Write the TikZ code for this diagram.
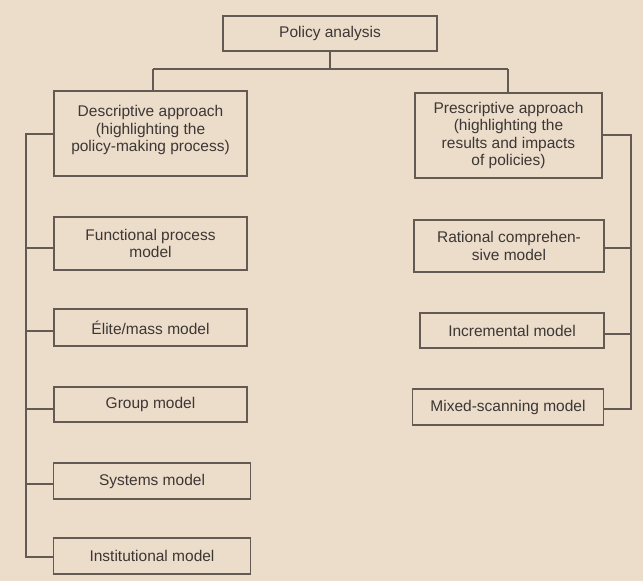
\documentclass[tikz,border=0pt]{standalone}
\usepackage{fontspec}
\setmainfont{Liberation Sans}
\begin{document}
\definecolor{paper}{HTML}{ECDCCA}
\definecolor{ink}{HTML}{645A54}
\definecolor{txt}{HTML}{3C3735}
\begin{tikzpicture}[x=1pt,y=-1pt,
  box/.style={draw=ink, line width=1.5pt, text=txt, align=center,
    inner sep=0pt, font=\fontsize{15.5pt}{17.5pt}\selectfont},
  link/.style={draw=ink, line width=1.5pt}]
  % paper
  \fill[paper] (0,0) rectangle (643,581);
  \useasboundingbox (0,0) rectangle (643,581);

  % top level
  \node[box, minimum width=214pt, minimum height=35pt] (pa) at (330,33.5) {Policy analysis};
  \node[box, minimum width=193pt, minimum height=85pt] (desc) at (150.5,133.5)
    {Descriptive approach\\(highlighting the\\policy-making process)\\[-8pt]};
  \node[box, minimum width=187pt, minimum height=85pt] (pres) at (508.5,135.5)
    {Prescriptive approach\\(highlighting the\\results and impacts\\of policies)};

  % descriptive models
  \node[box, minimum width=193pt, minimum height=53pt] (func) at (150.5,243.5) {Functional process\\model};
  \node[box, minimum width=193pt, minimum height=37pt] (elite) at (150.5,327.5) {Élite/mass model};
  \node[box, minimum width=193pt, minimum height=35pt] (group) at (150.5,404.5) {Group model};
  \node[box, minimum width=197pt, minimum height=36pt] (syst) at (152,481) {Systems model};
  \node[box, minimum width=197pt, minimum height=36pt] (inst) at (152,556) {Institutional model};

  % prescriptive models
  \node[box, minimum width=190pt, minimum height=52pt] (rat) at (509,246) {Rational comprehen-\\sive model};
  \node[box, minimum width=184pt, minimum height=35pt] (incr) at (512,330.5) {Incremental model};
  \node[box, minimum width=191pt, minimum height=36pt] (mixed) at (508,407) {Mixed-scanning model};

  % branching under the root
  \coordinate (fork) at (330,69);
  \coordinate (forkL) at (153,69);
  \coordinate (forkR) at (508,69);
  \draw[link] (pa) -- (fork);
  \draw[link] (forkL) -- (forkR);
  \draw[link] (forkL) -- (forkL |- desc.north);
  \draw[link] (forkR) -- (forkR |- pres.north);

  % left bus and its branches
  \coordinate (lTop) at (26,134);
  \coordinate (l1) at (26,248);
  \coordinate (l2) at (26,331);
  \coordinate (l3) at (26,409);
  \coordinate (l4) at (26,484);
  \coordinate (l5) at (26,557);
  \draw[link] (desc.west |- lTop) -- (lTop) -- (l5) -- (l5 -| inst.west);
  \draw[link] (l1) -- (l1 -| func.west);
  \draw[link] (l2) -- (l2 -| elite.west);
  \draw[link] (l3) -- (l3 -| group.west);
  \draw[link] (l4) -- (l4 -| syst.west);

  % right bus and its branches
  \coordinate (rTop) at (631,135);
  \coordinate (r1) at (631,248);
  \coordinate (r2) at (631,334);
  \coordinate (r3) at (631,409);
  \draw[link] (pres.east |- rTop) -- (rTop) -- (r3) -- (r3 -| mixed.east);
  \draw[link] (r1) -- (r1 -| rat.east);
  \draw[link] (r2) -- (r2 -| incr.east);
\end{tikzpicture}
\end{document}
